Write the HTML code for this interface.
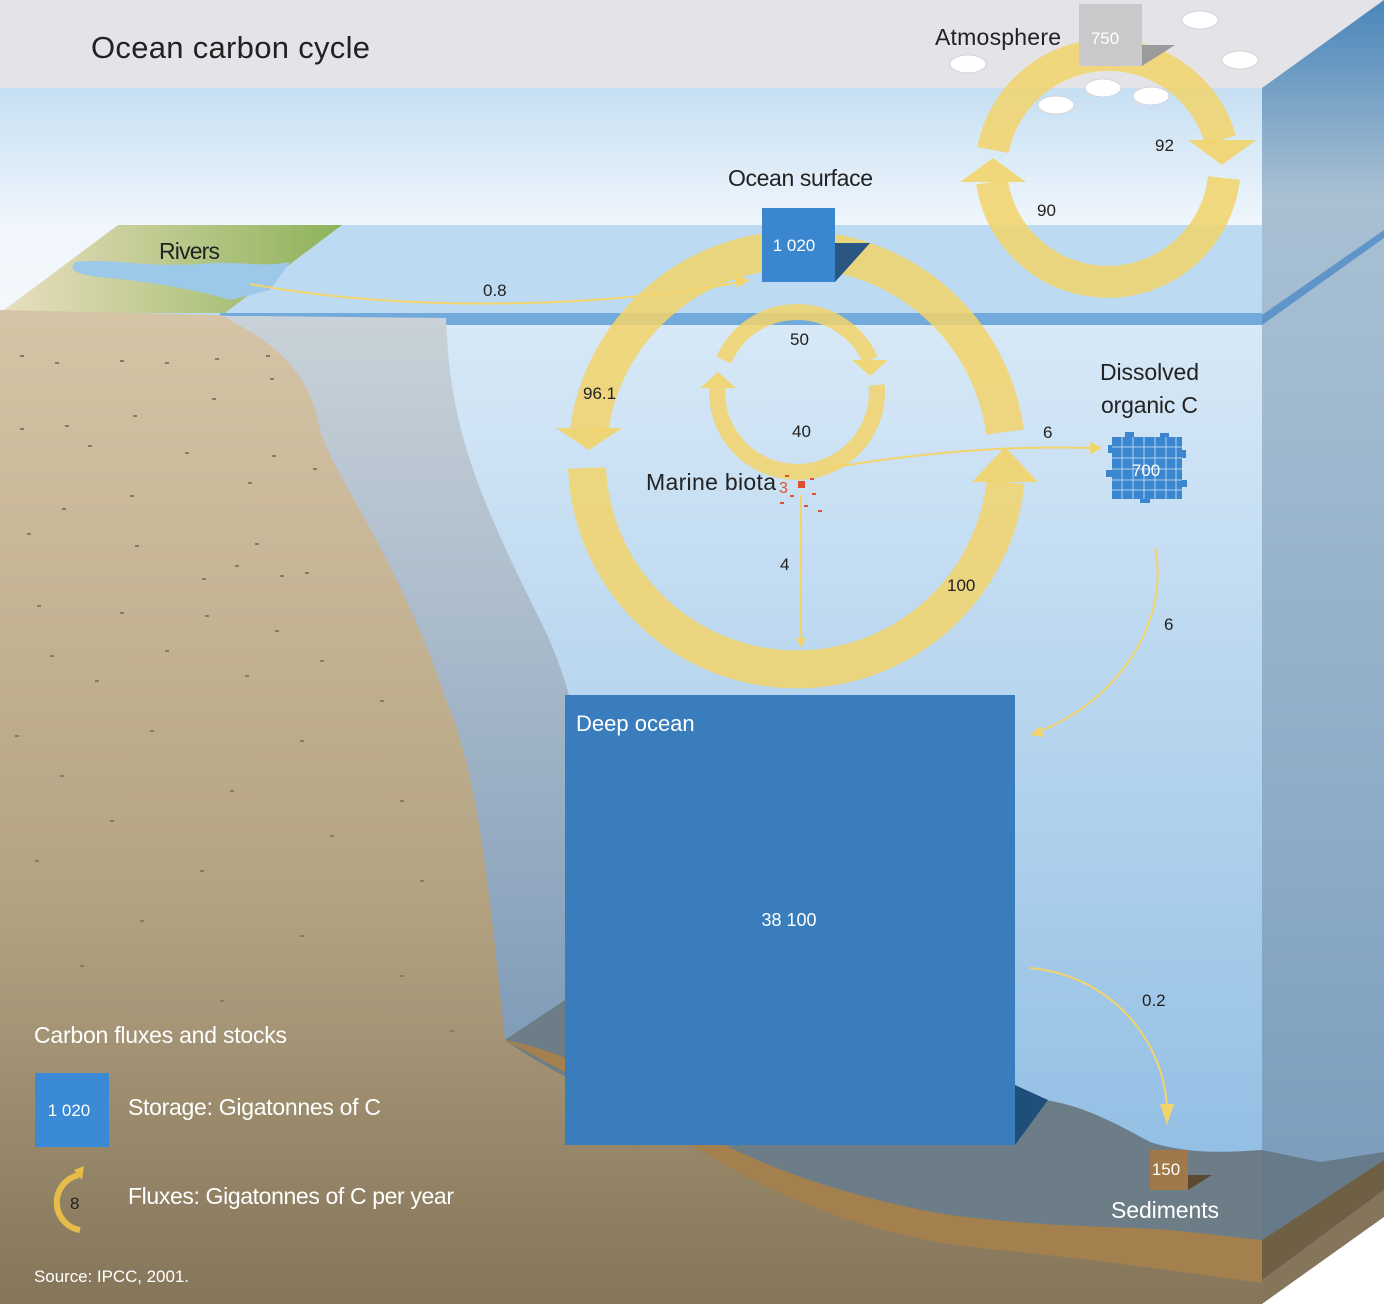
<!DOCTYPE html>
<html><head><meta charset="utf-8"><style>
html,body{margin:0;padding:0;background:#fff}
svg{display:block}
text{font-family:"Liberation Sans",sans-serif}
</style></head><body>
<svg width="1384" height="1304" viewBox="0 0 1384 1304" xmlns="http://www.w3.org/2000/svg">
<defs>
<linearGradient id="sky" x1="0" y1="0" x2="0" y2="1"><stop offset="0" stop-color="#c6dff3"/><stop offset="0.6" stop-color="#f0f6fc"/><stop offset="1" stop-color="#f4f8fd"/></linearGradient>
<linearGradient id="water" x1="0" y1="0" x2="0" y2="1"><stop offset="0" stop-color="#d8e9f7"/><stop offset="1" stop-color="#8dbce3"/></linearGradient>
<linearGradient id="land" x1="0" y1="0" x2="0" y2="1"><stop offset="0" stop-color="#d6c4a6"/><stop offset="0.6" stop-color="#b3a282"/><stop offset="1" stop-color="#857559"/></linearGradient>
<linearGradient id="slope" x1="0" y1="0" x2="0" y2="1"><stop offset="0" stop-color="#c9d2d8"/><stop offset="1" stop-color="#7f9bb8"/></linearGradient>
<linearGradient id="rface" x1="0" y1="0" x2="0" y2="1"><stop offset="0" stop-color="#4a86ba"/><stop offset="0.15" stop-color="#a9c0d3"/><stop offset="0.6" stop-color="#8eadc8"/><stop offset="1" stop-color="#7699b8"/></linearGradient>
<linearGradient id="grass" x1="0" y1="0" x2="1" y2="0"><stop offset="0" stop-color="#eadfc0"/><stop offset="1" stop-color="#8db35a"/></linearGradient>
</defs>
<rect x="0" y="0" width="1384" height="90" fill="#e4e3e8"/>
<rect x="0" y="88" width="1262" height="230" fill="url(#sky)"/>
<rect x="0" y="315" width="1262" height="910" fill="url(#water)"/>
<polygon points="118,225 1262,225 1262,315 0,315" fill="#bcdbf3"/>
<polygon points="0,313 118,225 342,225 225,313" fill="url(#grass)"/>
<path d="M75,262 C110,258 150,268 200,264 C240,260 260,268 290,262 L270,290 L230,300 C200,290 150,282 110,278 C85,276 65,272 75,262Z" fill="#9cc8ea"/>
<polygon points="1262,88 1384,0 1384,1217 1262,1304" fill="url(#rface)"/>
<polygon points="1262,1150 1320,1162 1384,1152 1384,1160 1262,1240" fill="#667a89"/>
<polygon points="1262,1240 1384,1160 1384,1190 1262,1280" fill="#6f5f44"/>
<polygon points="1262,1280 1384,1190 1384,1217 1262,1304" fill="#85755b"/>
<polygon points="1262,315 1384,230 1384,238 1262,325" fill="#5f95c8"/>
<rect x="220" y="313" width="1042" height="12" fill="#73aadc"/>
<path d="M150,315 L446,318 C450,420 470,480 540,620 C580,700 600,800 600,1040 L300,1060Z" fill="url(#slope)"/>
<path d="M505,1040 L565,1000 L1015,1000 L1015,1090 L1045,1100 C1080,1105 1110,1120 1150,1142 C1190,1155 1230,1152 1262,1150 L1262,1240 L505,1240Z" fill="#6d7d88"/>
<path d="M0,310 L220,315 C290,350 310,380 320,430 C330,470 400,560 446,700 C480,780 490,900 505,1040 C560,1080 640,1110 700,1150 C800,1210 900,1240 1050,1250 C1150,1258 1200,1270 1262,1282 L1262,1304 L0,1304Z" fill="url(#land)"/>
<path d="M505,1040 C560,1050 620,1080 680,1120 C760,1170 860,1200 950,1215 C1050,1228 1120,1226 1170,1230 C1210,1234 1240,1238 1262,1240 L1262,1283 C1200,1275 1120,1262 1000,1250 C880,1240 780,1200 700,1150 C620,1100 560,1070 505,1040Z" fill="#a3804d"/>
<g fill="#8a7a62">
<rect x="20" y="355" width="4" height="2"/><rect x="55" y="362" width="4" height="2"/><rect x="120" y="360" width="4" height="2"/><rect x="165" y="362" width="4" height="2"/><rect x="215" y="358" width="4" height="2"/><rect x="266" y="355" width="4" height="2"/><rect x="270" y="378" width="4" height="2"/><rect x="212" y="398" width="4" height="2"/><rect x="133" y="415" width="4" height="2"/><rect x="20" y="428" width="4" height="2"/><rect x="65" y="425" width="4" height="2"/><rect x="88" y="445" width="4" height="2"/><rect x="185" y="452" width="4" height="2"/><rect x="272" y="455" width="4" height="2"/><rect x="313" y="468" width="4" height="2"/><rect x="248" y="482" width="4" height="2"/><rect x="130" y="495" width="4" height="2"/><rect x="62" y="508" width="4" height="2"/><rect x="27" y="533" width="4" height="2"/><rect x="135" y="545" width="4" height="2"/><rect x="255" y="543" width="4" height="2"/><rect x="235" y="565" width="4" height="2"/><rect x="202" y="578" width="4" height="2"/><rect x="280" y="575" width="4" height="2"/><rect x="305" y="572" width="4" height="2"/><rect x="37" y="605" width="4" height="2"/><rect x="120" y="612" width="4" height="2"/><rect x="205" y="615" width="4" height="2"/><rect x="275" y="630" width="4" height="2"/><rect x="50" y="655" width="4" height="2"/><rect x="165" y="650" width="4" height="2"/><rect x="320" y="660" width="4" height="2"/><rect x="95" y="680" width="4" height="2"/><rect x="245" y="675" width="4" height="2"/><rect x="380" y="700" width="4" height="2"/><rect x="15" y="735" width="4" height="2"/><rect x="150" y="730" width="4" height="2"/><rect x="300" y="740" width="4" height="2"/><rect x="60" y="775" width="4" height="2"/><rect x="230" y="790" width="4" height="2"/><rect x="400" y="800" width="4" height="2"/><rect x="110" y="820" width="4" height="2"/><rect x="330" y="835" width="4" height="2"/><rect x="35" y="860" width="4" height="2"/><rect x="200" y="870" width="4" height="2"/><rect x="420" y="880" width="4" height="2"/><rect x="140" y="920" width="4" height="2"/><rect x="300" y="935" width="4" height="2"/><rect x="80" y="965" width="4" height="2"/><rect x="400" y="975" width="4" height="2"/><rect x="220" y="1000" width="4" height="2"/><rect x="450" y="1030" width="4" height="2"/>
</g>
<polygon points="1015,1085 1048,1100 1015,1145" fill="#1f4e7a"/>
<rect x="565" y="695" width="450" height="450" fill="#3a7dbd"/>
<text x="576" y="731" font-size="22" fill="#fff">Deep ocean</text>
<text x="789" y="926" font-size="18" fill="#fff" text-anchor="middle">38 100</text>
<g fill="none" stroke="#f2d46a" stroke-opacity="0.85">
<path d="M589,430 A210,210 0 0 1 1005,432" stroke-width="38"/>
<path d="M1005.6,482 A210,210 0 0 1 587,468" stroke-width="38"/>
<path d="M723.7,360 A80,80 0 0 1 870.3,360" stroke-width="16"/>
<path d="M876.7,385 A80,80 0 1 1 717.1,388" stroke-width="16"/>
<path d="M993,150 A117,117 0 0 1 1220.5,140" stroke-width="32"/>
<path d="M1224,178 A117,117 0 0 1 992,182" stroke-width="32"/>
</g>
<g fill="#f2d46a" fill-opacity="0.9">
<polygon points="556,428 622,428 589,450"/>
<polygon points="972,482 1038,482 1005,447"/>
<polygon points="852,360 888,360 870,376"/>
<polygon points="700,388 736,388 718,372"/>
<polygon points="1188,140 1256,140 1222,165"/>
<polygon points="960,182 1026,182 993,158"/>
</g>
<polygon points="835,243 870,243 835,282" fill="#2a5683"/>
<rect x="762" y="208" width="73" height="74" fill="#3a86cf"/>
<text x="794" y="251" font-size="17" fill="#fff" text-anchor="middle">1 020</text>
<polygon points="1142,45 1175,45 1142,66" fill="#9b9b9b"/>
<rect x="1079" y="4" width="63" height="62" fill="#c9c9cc"/>
<text x="1105" y="44" font-size="17" fill="#fff" text-anchor="middle">750</text>
<g fill="#fff" stroke="#d4d4d8">
<ellipse cx="968" cy="64" rx="18" ry="9"/><ellipse cx="1056" cy="105" rx="18" ry="9"/><ellipse cx="1103" cy="88" rx="18" ry="9"/><ellipse cx="1151" cy="96" rx="18" ry="9"/><ellipse cx="1200" cy="20" rx="18" ry="9"/><ellipse cx="1240" cy="60" rx="18" ry="9"/>
</g>
<g fill="none" stroke="#f2d46a" stroke-width="2">
<path d="M250,284 C420,315 620,305 740,282"/>
<path d="M820,470 C900,455 1000,445 1090,448"/>
<path d="M801,495 L801,640"/>
<path d="M1155,548 C1170,620 1120,700 1038,732"/>
<path d="M1030,968 C1110,975 1165,1040 1167,1110"/>
</g>
<g fill="#f2d46a">
<polygon points="735,275 750,280 737,288"/>
<polygon points="1090,442 1102,448 1090,454"/>
<polygon points="796,638 806,638 801,648"/>
<polygon points="1040,726 1030,735 1044,737"/>
<polygon points="1160,1104 1174,1104 1167,1125"/>
</g>
<g fill="#3a86cf">
<rect x="1112" y="437" width="70" height="62"/>
<rect x="1108" y="445" width="6" height="8"/><rect x="1106" y="470" width="8" height="7"/><rect x="1180" y="450" width="6" height="8"/><rect x="1182" y="480" width="5" height="7"/><rect x="1125" y="432" width="9" height="6"/><rect x="1160" y="433" width="9" height="5"/><rect x="1140" y="498" width="10" height="5"/>
</g>
<g stroke="#cfe3f5" stroke-width="1" opacity="0.8">
<path d="M1112,447H1182M1112,458H1182M1112,469H1182M1112,480H1182M1112,490H1182M1122,437V499M1133,437V499M1144,437V499M1155,437V499M1166,437V499M1176,437V499"/>
</g>
<text x="1146" y="476" font-size="17" fill="#fff" text-anchor="middle">700</text>
<rect x="798" y="481" width="7" height="7" fill="#e0502e"/>
<g fill="#e0502e"><rect x="785" y="475" width="4" height="2"/><rect x="810" y="478" width="4" height="2"/><rect x="790" y="495" width="4" height="2"/><rect x="812" y="493" width="4" height="2"/><rect x="780" y="502" width="4" height="2"/><rect x="804" y="505" width="4" height="2"/><rect x="818" y="510" width="4" height="2"/></g>
<text x="779" y="493" font-size="16" fill="#e0502e">3</text>
<polygon points="1188,1175 1212,1175 1188,1190" fill="#5c4a30"/>
<rect x="1150" y="1150" width="38" height="40" fill="#a0784a"/>
<text x="1166" y="1175" font-size="17" fill="#fff" text-anchor="middle">150</text>
<text x="91" y="58" font-size="31" fill="#222" textLength="279">Ocean carbon cycle</text>
<text x="935" y="45" font-size="23" fill="#222" textLength="126">Atmosphere</text>
<text x="728" y="186" font-size="23" fill="#222" textLength="145">Ocean surface</text>
<text x="159" y="259" font-size="23" fill="#222" textLength="61">Rivers</text>
<text x="483" y="296" font-size="17" fill="#222">0.8</text>
<text x="1155" y="151" font-size="17" fill="#222">92</text>
<text x="1037" y="216" font-size="17" fill="#222">90</text>
<text x="790" y="345" font-size="17" fill="#222">50</text>
<text x="792" y="437" font-size="17" fill="#222">40</text>
<text x="583" y="399" font-size="17" fill="#222">96.1</text>
<text x="646" y="490" font-size="23" fill="#222" textLength="130">Marine biota</text>
<text x="1100" y="380" font-size="23" fill="#222" textLength="99">Dissolved</text>
<text x="1101" y="413" font-size="23" fill="#222" textLength="97">organic C</text>
<text x="1043" y="438" font-size="17" fill="#222">6</text>
<text x="780" y="570" font-size="17" fill="#222">4</text>
<text x="947" y="591" font-size="17" fill="#222">100</text>
<text x="1164" y="630" font-size="17" fill="#222">6</text>
<text x="1142" y="1006" font-size="17" fill="#222">0.2</text>
<text x="1111" y="1218" font-size="23" fill="#fff" textLength="108">Sediments</text>
<text x="34" y="1043" font-size="23" fill="#fff" textLength="253">Carbon fluxes and stocks</text>
<rect x="35" y="1073" width="74" height="74" fill="#3a8ad6"/>
<text x="69" y="1116" font-size="17" fill="#fff" text-anchor="middle">1 020</text>
<text x="128" y="1115" font-size="23" fill="#fff" textLength="253">Storage: Gigatonnes of C</text>
<path d="M79,1175 A28,28 0 0 0 80,1230" fill="none" stroke="#e6bd48" stroke-width="6"/>
<polygon points="74,1170 84,1166 82,1180" fill="#e6bd48"/>
<text x="70" y="1209" font-size="17" fill="#222">8</text>
<text x="128" y="1204" font-size="23" fill="#fff" textLength="326">Fluxes: Gigatonnes of C per year</text>
<text x="34" y="1282" font-size="17" fill="#fff" textLength="155">Source: IPCC, 2001.</text>
<polygon points="1262,1304 1384,1217 1384,1304" fill="#fff"/>
</svg>
</body></html>
